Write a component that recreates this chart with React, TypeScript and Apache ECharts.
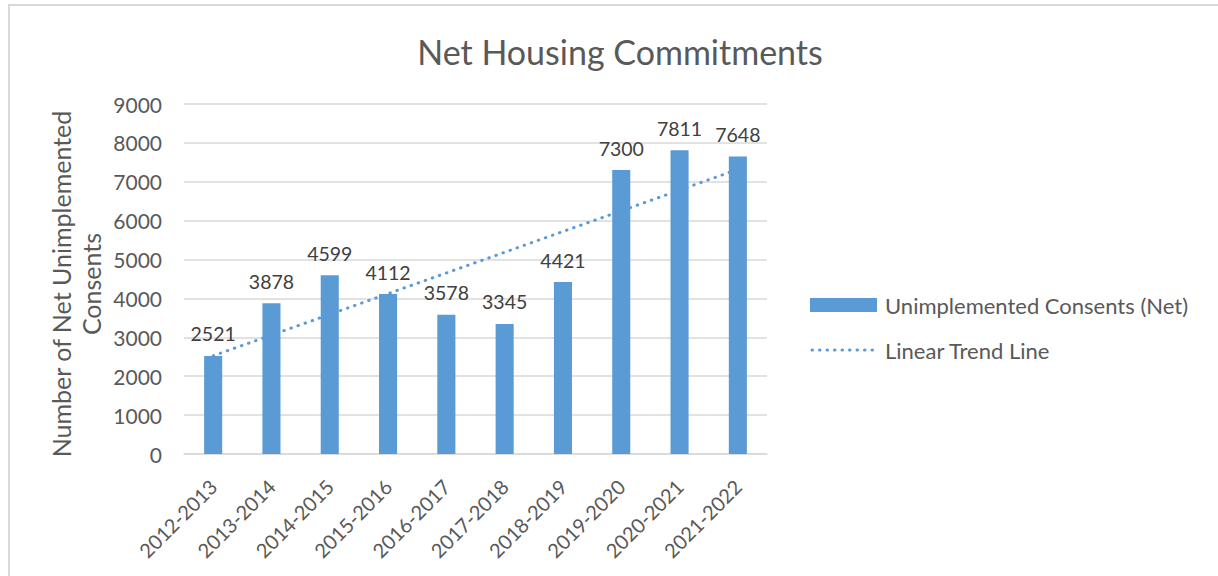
import React, { useEffect, useRef } from "react";
import * as echarts from "echarts";

const categories = ["2012-2013", "2013-2014", "2014-2015", "2015-2016", "2016-2017", "2017-2018", "2018-2019", "2019-2020", "2020-2021", "2021-2022"];
const consents = [2521, 3878, 4599, 4112, 3578, 3345, 4421, 7300, 7811, 7648];
const trendEnds = [2525, 7318];
const titleText = "Net Housing Commitments";
const yAxisTitle = "Number of Net Unimplemented\nConsents";
const barName = "Unimplemented Consents (Net)";
const trendName = "Linear Trend Line";

const FONT = "Lato";
const TEXT = "#595959";
const BLUE = "#5b9bd5";
const DOTS = [0.5, 7];

export default function App() {
  const ref = useRef<HTMLDivElement>(null);
  useEffect(() => {
    document.body.style.margin = "0";
    const chart = echarts.init(ref.current!, null, { renderer: "svg" });
    chart.setOption({
      animation: false,
      backgroundColor: "#ffffff",
      textStyle: { fontFamily: FONT, color: TEXT },
      title: {
        text: titleText,
        left: 615,
        top: 29,
        textAlign: "center",
        textStyle: { fontFamily: FONT, fontSize: 34, fontWeight: "normal", color: TEXT },
      },
      grid: { left: 184, right: 451, top: 104, bottom: 122, containLabel: false },
      xAxis: {
        type: "category",
        data: categories,
        axisLine: { lineStyle: { color: "#d9d9d9", width: 1.5 } },
        axisTick: { show: false },
        axisLabel: { rotate: 45, fontSize: 20, color: TEXT, fontFamily: FONT, margin: 29, interval: 0 },
      },
      yAxis: {
        type: "value",
        min: 0,
        max: 9000,
        interval: 1000,
        name: yAxisTitle,
        nameLocation: "middle",
        nameGap: 78,
        nameTextStyle: { fontFamily: FONT, fontSize: 25, color: TEXT, lineHeight: 30, padding: [0, 10, 0, 0] },
        axisLine: { show: false },
        axisTick: { show: false },
        axisLabel: { fontSize: 21, color: TEXT, fontFamily: FONT, margin: 22, formatter: (v: number) => String(v) },
        splitLine: { lineStyle: { color: "#d9d9d9", width: 1.5 } },
      },
      series: [
        {
          name: barName,
          type: "bar",
          data: consents,
          barWidth: "31%",
          itemStyle: { color: BLUE },
          label: {
            show: true,
            position: "top",
            distance: 12,
            fontSize: 19.5,
            fontFamily: FONT,
            color: "#404040",
          },
          z: 2,
        },
        {
          name: trendName,
          type: "line",
          data: [
            [categories[0], trendEnds[0]],
            [categories[categories.length - 1], trendEnds[1]],
          ],
          symbol: "none",
          itemStyle: { color: BLUE },
          lineStyle: { color: BLUE, width: 3, type: DOTS, cap: "round" },
          z: 3,
        },
      ],
      graphic: [
        {
          type: "polyline",
          shape: { points: [[9, 576], [9, 5], [1218, 5]] },
          style: { stroke: "#d9d9d9", lineWidth: 2, fill: "none" },
          silent: true,
        },
        {
          type: "rect",
          shape: { x: 810, y: 298, width: 67, height: 14 },
          style: { fill: BLUE },
          silent: true,
        },
        {
          type: "text",
          x: 885,
          y: 305,
          style: { text: barName, font: `22px ${FONT}`, fill: TEXT, verticalAlign: "middle", align: "left" },
          silent: true,
        },
        {
          type: "line",
          shape: { x1: 812, y1: 350, x2: 877, y2: 350 },
          style: { stroke: BLUE, lineWidth: 3, lineDash: DOTS, lineCap: "round" },
          silent: true,
        },
        {
          type: "text",
          x: 885,
          y: 350,
          style: { text: trendName, font: `22px ${FONT}`, fill: TEXT, verticalAlign: "middle", align: "left" },
          silent: true,
        },
      ],
    });
    return () => chart.dispose();
  }, []);
  return <div ref={ref} style={{ width: 1218, height: 576 }} />;
}
